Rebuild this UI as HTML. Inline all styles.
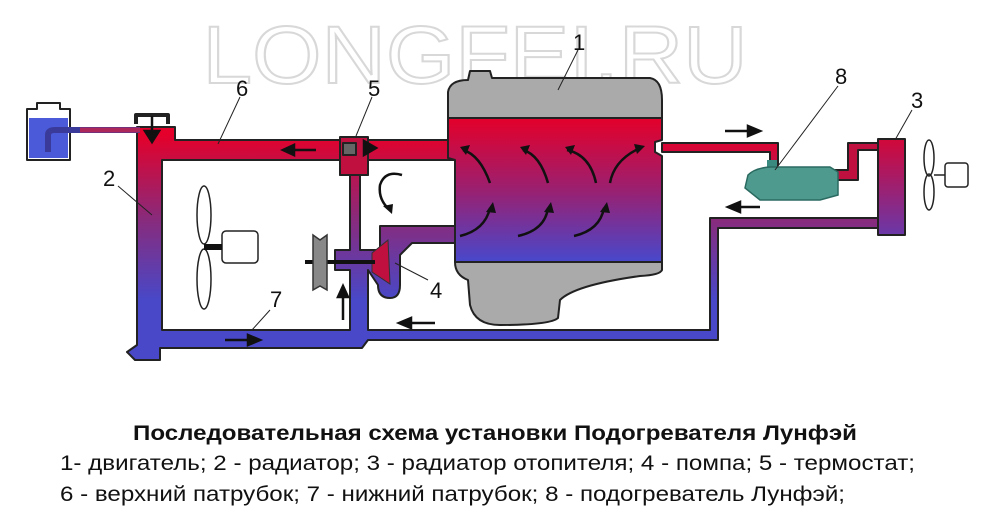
<!DOCTYPE html>
<html><head><meta charset="utf-8"><style>
html,body{margin:0;padding:0;background:#fff;width:1000px;height:521px;overflow:hidden}
svg text{font-family:"Liberation Sans",sans-serif}
</style></head><body>
<svg width="1000" height="521" viewBox="0 0 1000 521" xmlns="http://www.w3.org/2000/svg">
<defs>
<linearGradient id="g" gradientUnits="userSpaceOnUse" x1="0" y1="135" x2="0" y2="300">
<stop offset="0" stop-color="#e4002a"/><stop offset="0.5" stop-color="#8a2a7a"/><stop offset="1" stop-color="#4848c8"/></linearGradient>
<linearGradient id="ge" gradientUnits="userSpaceOnUse" x1="0" y1="118" x2="0" y2="262">
<stop offset="0" stop-color="#e4002a"/><stop offset="0.5" stop-color="#9a2070"/><stop offset="1" stop-color="#4848cc"/></linearGradient>
<linearGradient id="gh" gradientUnits="userSpaceOnUse" x1="0" y1="140" x2="0" y2="235">
<stop offset="0" stop-color="#d0083a"/><stop offset="1" stop-color="#6a38a8"/></linearGradient>
</defs>
<text x="475" y="83" text-anchor="middle" font-size="82" fill="none" stroke="#d8d8d8" stroke-width="2" textLength="545" lengthAdjust="spacingAndGlyphs">LONGFEI.RU</text>

<g stroke="#222" stroke-width="2" stroke-linejoin="round">
<path fill="url(#g)" d="M137,127 L175,127 L175,140 L455,140 L455,160 L368,160 L368,175 L360,175 L360,250 L380,250 L380,226 L455,226 L455,243 L412,243 L400,255 L400,285 Q400,298 390,298 Q378,298 378,285 L368,270 L368,330 L710,330 L710,218 L880,218 L880,228 L718,228 L718,340 L368,340 L362,348 L160,348 L160,360 L135,360 L127,352 L137,345 Z M162,160 L162,330 L350,330 L350,270 L335,270 L335,250 L350,250 L350,175 L340,175 L340,160 Z"/>
<path fill="#fff" d="M37,103 L60,103 L60,109 L70,109 L70,160 L27,160 L27,109 L37,109 Z"/>
<rect x="29" y="118" width="39" height="40" fill="#4a5ad8" stroke="none"/>
<path fill="none" stroke="#3a3a9a" stroke-width="6" d="M48,152 L48,135 Q48,130 55,130 L140,130"/>
<path fill="none" stroke="#e02040" stroke-width="5" stroke-opacity="0.7" d="M80,130 L140,130"/>
<path fill="none" stroke-width="4" d="M136,124 L136,115 L168,115 L168,124"/>
<rect x="340" y="137" width="28" height="38" fill="#c01040"/>
<rect x="343" y="143" width="13" height="12" fill="#666"/>
<path fill="#aaa" d="M448,92 Q450,80 468,80 L470,71 L490,71 L492,78 L650,78 Q662,80 662,100 L662,118 L448,118 Z"/>
<path fill="url(#ge)" d="M448,118 L662,118 L662,140 L655,142 L655,152 L662,156 L662,262 L455,262 L455,160 L448,158 Z"/>
<path fill="#aaa" d="M455,262 L662,262 L662,270 Q660,275 640,276 Q575,285 560,300 L558,318 Q550,325 500,325 Q475,325 470,305 L468,280 Q455,275 455,262 Z"/>
<path fill="url(#g)" d="M662,143 L778,143 L778,165 L770,165 L770,152 L662,152 Z"/>
<path fill="#c01040" d="M835,170 L848,170 L848,143 L880,143 L880,150 L858,150 L858,180 L835,180 Z"/>
<rect x="878" y="139" width="27" height="96" fill="url(#gh)"/>
</g>
<rect x="767" y="160" width="10" height="10" fill="#3a8a80"/>
<path d="M748,175 Q755,168 770,167 L830,167 L838,172 L838,195 L820,200 L760,200 L745,188 Z" fill="#4f9a8f" stroke="#2a6a60" stroke-width="1.5"/>
<g fill="none" stroke="#111" stroke-width="2.5">
<path d="M490,183 Q480,155 463,150"/><path d="M548,183 Q540,155 523,150"/><path d="M596,183 Q590,155 567,150"/><path d="M610,183 Q614,160 640,148"/>
<path d="M460,236 Q485,230 490,208"/><path d="M518,236 Q545,230 548,208"/><path d="M574,236 Q600,230 604,208"/>
<path d="M402,175 Q385,170 380,185 Q378,200 390,210"/>
</g>
<g fill="#111">
<polygon points="460,147 470,145 466,155"/><polygon points="520,147 530,145 526,155"/><polygon points="565,147 575,145 571,155"/><polygon points="645,146 634,144 637,154"/>
<polygon points="493,202 486,212 496,213"/><polygon points="551,202 544,212 554,213"/><polygon points="607,202 600,212 610,213"/>
<polygon points="392,214 383,206 393,204"/>
</g>
<g stroke="#111" stroke-width="2.5" fill="#111">
<line x1="316" y1="150" x2="292" y2="150"/><polygon points="283,150 294,145 294,155"/>
<polygon points="376,148 364,141 364,155"/>
<line x1="152" y1="116" x2="152" y2="132"/><polygon points="152,142 145,131 159,131"/>
<line x1="225" y1="340" x2="250" y2="340"/><polygon points="260,340 248,335 248,345"/>
<line x1="343" y1="320" x2="343" y2="294"/><polygon points="343,286 338,297 348,297"/>
<line x1="435" y1="323" x2="410" y2="323"/><polygon points="399,323 411,318 411,328"/>
<line x1="725" y1="131" x2="750" y2="131"/><polygon points="760,131 748,126 748,136"/>
<line x1="760" y1="207" x2="738" y2="207"/><polygon points="728,207 740,202 740,212"/>
</g>
<polygon points="372,253 388,240 390,284 372,272" fill="#c01040" stroke="#333" stroke-width="1"/>
<line x1="305" y1="262" x2="375" y2="262" stroke="#111" stroke-width="4"/>
<path d="M313,235 L320,240 L327,235 L327,290 L320,286 L313,290 Z" fill="#888" stroke="#333" stroke-width="1.5"/>
<g fill="none" stroke="#222" stroke-width="1.5">
<ellipse cx="204" cy="215" rx="7" ry="29"/><ellipse cx="204" cy="279" rx="7" ry="30"/>
<rect x="222" y="231" width="36" height="32" rx="4"/>
<ellipse cx="929" cy="158" rx="5" ry="18"/><ellipse cx="929" cy="192" rx="5" ry="18"/>
<rect x="945" y="163" width="23" height="24" rx="3"/>
<line x1="934" y1="175" x2="945" y2="175"/>
</g>
<line x1="204" y1="247" x2="222" y2="247" stroke="#111" stroke-width="6"/>
<g stroke="#222" stroke-width="1"><line x1="578" y1="50" x2="558" y2="90"/><line x1="240" y1="97" x2="218" y2="144"/><line x1="372" y1="97" x2="356" y2="136"/><line x1="118" y1="186" x2="152" y2="215"/><line x1="428" y1="280" x2="395" y2="263"/><line x1="270" y1="310" x2="252" y2="330"/><line x1="838" y1="86" x2="775" y2="170"/><line x1="912" y1="110" x2="895" y2="140"/></g>
<g font-size="22" fill="#111">
<text x="573" y="50">1</text><text x="236" y="96">6</text><text x="368" y="96">5</text><text x="103" y="186">2</text><text x="430" y="298">4</text><text x="270" y="307">7</text><text x="835" y="84">8</text><text x="911" y="108">3</text>
</g>
<text x="133" y="440" font-size="21" font-weight="bold" fill="#111" textLength="724" lengthAdjust="spacingAndGlyphs">Последовательная схема установки Подогревателя Лунфэй</text>
<text x="60" y="470" font-size="21" fill="#111" textLength="855" lengthAdjust="spacingAndGlyphs">1- двигатель; 2 - радиатор; 3 - радиатор отопителя; 4 - помпа; 5 - термостат;</text>
<text x="60" y="501" font-size="21" fill="#111" textLength="785" lengthAdjust="spacingAndGlyphs">6 - верхний патрубок; 7 - нижний патрубок; 8 - подогреватель Лунфэй;</text>
</svg>
</body></html>
